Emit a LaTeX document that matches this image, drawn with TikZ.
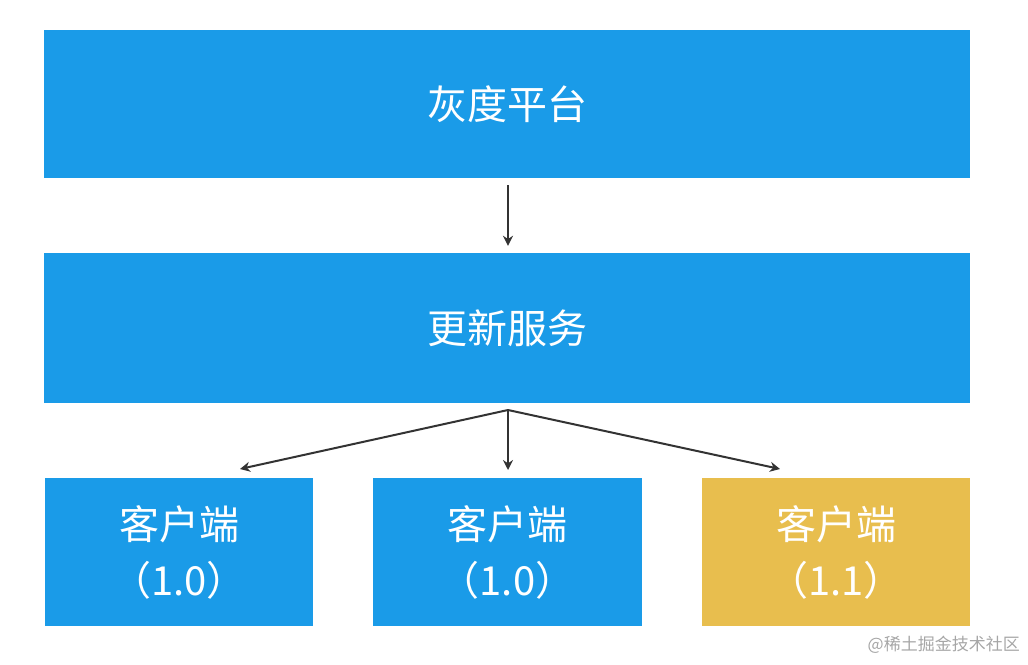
\documentclass[tikz,border=0pt]{standalone}
\usepackage{fontspec}
\newfontfamily\cjk{Noto Sans CJK SC}
\usetikzlibrary{arrows.meta}
\definecolor{boxblue}{HTML}{1A9BE8}
\definecolor{boxgold}{HTML}{E8BE4E}
\definecolor{arrowgray}{HTML}{333333}
\tikzset{
  blk/.style={fill=boxblue, draw=none, text=white, font=\cjk\fontsize{40}{48}\selectfont, align=center, inner sep=0pt},
  gld/.style={blk, fill=boxgold},
  conn/.style={draw=arrowgray, line width=2pt, -{Stealth[length=10pt,width=10pt]}},
}
\begin{document}
\begin{tikzpicture}[x=1pt,y=-1pt]
\useasboundingbox (0,0) rectangle (1028,664);
\node[blk, minimum width=926pt, minimum height=148pt] (top) at (507,104) {灰度平台};
\node[blk, minimum width=926pt, minimum height=150pt] (mid) at (507,328) {更新服务};
\node[blk, minimum width=268pt, minimum height=148pt] (c1) at (179,552) {客户端\\[8pt]（1.0）};
\node[blk, minimum width=269pt, minimum height=148pt] (c2) at (507.5,552) {客户端\\[8pt]（1.0）};
\node[gld, minimum width=268pt, minimum height=148pt] (c3) at (836,552) {客户端\\[8pt]（1.1）};
\coordinate (src) at (508,410);
\coordinate (t1) at (240,469);
\coordinate (t2) at (508,470);
\coordinate (t3) at (780,469);
\draw[conn] ([yshift=-7pt]top.south -| src) -- ([yshift=7pt]mid.north -| src);
\draw[conn] (src) -- (t1);
\draw[conn] (src) -- (t2);
\draw[conn] (src) -- (t3);
\node[font=\cjk\fontsize{17}{20}\selectfont, text=gray!70, anchor=east, inner sep=0pt] (wm) at (1020,645) {@稀土掘金技术社区};
\end{tikzpicture}
\end{document}
